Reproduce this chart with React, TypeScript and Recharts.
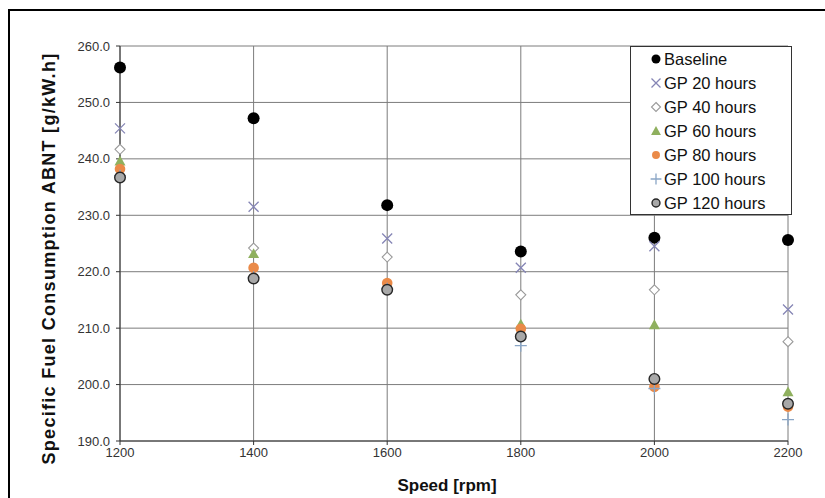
import React from "react";
import { ScatterChart, Scatter, XAxis, YAxis, CartesianGrid, Legend } from "recharts";

const speeds = [1200, 1400, 1600, 1800, 2000, 2200];
const yTicks = [190, 200, 210, 220, 230, 240, 250, 260];

const baseline = [256.2, 247.2, 231.8, 223.6, 226.0, 225.6];
const gp20 = [245.4, 231.5, 225.9, 220.7, 224.5, 213.3];
const gp40 = [241.7, 224.2, 222.6, 215.9, 216.8, 207.6];
const gp60 = [239.6, 223.2, 217.6, 210.7, 210.6, 198.7];
const gp80 = [238.2, 220.7, 218.0, 209.9, 199.6, 196.1];
const gp100 = [237.0, 219.0, 217.0, 206.9, 199.3, 193.8];
const gp120 = [236.7, 218.8, 216.8, 208.5, 201.0, 196.6];

const FONT = "'Liberation Sans', Arial, sans-serif";

type Kind = "dot" | "x" | "diamond" | "tri" | "orange" | "plus" | "gray";

const series: { name: string; values: number[]; kind: Kind }[] = [
    { name: "Baseline", values: baseline, kind: "dot" },
    { name: "GP 20 hours", values: gp20, kind: "x" },
    { name: "GP 40 hours", values: gp40, kind: "diamond" },
    { name: "GP 60 hours", values: gp60, kind: "tri" },
    { name: "GP 80 hours", values: gp80, kind: "orange" },
    { name: "GP 100 hours", values: gp100, kind: "plus" },
    { name: "GP 120 hours", values: gp120, kind: "gray" },
];

// s = scale (1 for plot markers, smaller in the legend)
function Marker({ kind, cx, cy, s = 1 }: { kind: Kind; cx: number; cy: number; s?: number }) {
    switch (kind) {
        case "dot":
            return <circle cx={cx} cy={cy} r={6 * s} fill="#000" />;
        case "x": {
            const d = 5 * s;
            return (
                <path
                    d={`M${cx - d},${cy - d}L${cx + d},${cy + d}M${cx - d},${cy + d}L${cx + d},${cy - d}`}
                    stroke="#8585b5"
                    strokeWidth={1.3}
                    fill="none"
                />
            );
        }
        case "diamond": {
            const d = 5 * s;
            return (
                <path
                    d={`M${cx},${cy - d}L${cx + d},${cy}L${cx},${cy + d}L${cx - d},${cy}Z`}
                    fill="#fff"
                    stroke="#9a9a9a"
                    strokeWidth={1.1}
                />
            );
        }
        case "tri": {
            const d = 5.5 * s;
            return <path d={`M${cx},${cy - d}L${cx + d},${cy + d * 0.8}L${cx - d},${cy + d * 0.8}Z`} fill="#8fb05e" />;
        }
        case "orange":
            return <circle cx={cx} cy={cy} r={5.3 * s} fill="#ea8a48" />;
        case "plus": {
            const d = 6 * s;
            return (
                <path
                    d={`M${cx - d},${cy}L${cx + d},${cy}M${cx},${cy - d}L${cx},${cy + d}`}
                    stroke="#8aa6c6"
                    strokeWidth={1.3}
                    fill="none"
                />
            );
        }
        case "gray":
            return <circle cx={cx} cy={cy} r={5.3 * s} fill="#a8a8a8" stroke="#262626" strokeWidth={1.4} />;
    }
}

function LegendBox() {
    return (
        <div
            style={{
                border: "1px solid #333",
                background: "#fff",
                width: 162,
                height: 169,
                boxSizing: "border-box",
                fontFamily: FONT,
                fontSize: 16.5,
                color: "#111",
            }}
        >
            {series.map((s) => (
                <div key={s.name} style={{ display: "flex", alignItems: "center", height: 24 }}>
                    <svg width={33} height={24} style={{ flex: "none" }}>
                        <Marker kind={s.kind} cx={25} cy={12} s={s.kind === "dot" || s.kind === "orange" || s.kind === "gray" ? 0.75 : 0.9} />
                    </svg>
                    <span style={{ whiteSpace: "nowrap" }}>{s.name}</span>
                </div>
            ))}
        </div>
    );
}

export default function App() {
    return (
        <div style={{ position: "fixed", left: 0, top: 0, width: 825, height: 498, overflow: "hidden", background: "#fff" }}>
            <div
                style={{
                    position: "absolute",
                    left: 8,
                    top: 9,
                    width: 900,
                    height: 600,
                    borderTop: "2px solid #000",
                    borderLeft: "2px solid #000",
                }}
            />
            <div style={{ position: "absolute", left: 0, top: 0 }}>
                <ScatterChart width={825} height={498} margin={{ top: 46, right: 37, bottom: 0, left: 0 }} style={{ fontFamily: FONT }}>
                    <CartesianGrid stroke="#7c7c7c" />
                    <XAxis
                        type="number"
                        dataKey="x"
                        domain={[1200, 2200]}
                        ticks={speeds}
                        height={57}
                        stroke="#333"
                        tickSize={4}
                        tickMargin={3}
                        tick={{ fill: "#333", fontSize: 13, fontFamily: FONT }}
                        label={(p: any) => {
                            const vb = p.viewBox || {};
                            return (
                                <text
                                    x={vb.x + vb.width / 2 - 7}
                                    y={vb.y + 44}
                                    textAnchor="middle"
                                    dominantBaseline="central"
                                    fontFamily={FONT}
                                    fontWeight="bold"
                                    fontSize={17}
                                    fill="#111"
                                >
                                    Speed [rpm]
                                </text>
                            );
                        }}
                    />
                    <YAxis
                        type="number"
                        dataKey="y"
                        domain={[190, 260]}
                        ticks={yTicks}
                        width={120}
                        stroke="#333"
                        tickSize={4}
                        tickMargin={6}
                        tick={{ fill: "#333", fontSize: 13, fontFamily: FONT }}
                        tickFormatter={(v: number) => v.toFixed(1)}
                        label={(p: any) => {
                            const vb = p.viewBox || {};
                            const x = vb.x + 49;
                            const y = vb.y + vb.height / 2 + 15;
                            return (
                                <text
                                    x={x}
                                    y={y}
                                    transform={`rotate(-90, ${x}, ${y})`}
                                    textAnchor="middle"
                                    dominantBaseline="central"
                                    fontFamily={FONT}
                                    fontWeight="bold"
                                    fontSize={18}
                                    letterSpacing={1.3}
                                    fill="#111"
                                >
                                    Specific Fuel Consumption ABNT [g/kW.h]
                                </text>
                            );
                        }}
                    />
                    <Legend
                        layout="horizontal"
                        verticalAlign="middle"
                        align="center"
                        content={() => <LegendBox />}
                        wrapperStyle={{ position: "absolute", left: 630, top: 46, width: 162, height: 169, margin: 0 }}
                    />
                    {series.map((s) => (
                        <Scatter
                            key={s.name}
                            name={s.name}
                            data={speeds.map((x, i) => ({ x, y: s.values[i] }))}
                            isAnimationActive={false}
                            shape={(p: any) => <Marker kind={s.kind} cx={p.cx} cy={p.cy} />}
                        />
                    ))}
                </ScatterChart>
            </div>
        </div>
    );
}
